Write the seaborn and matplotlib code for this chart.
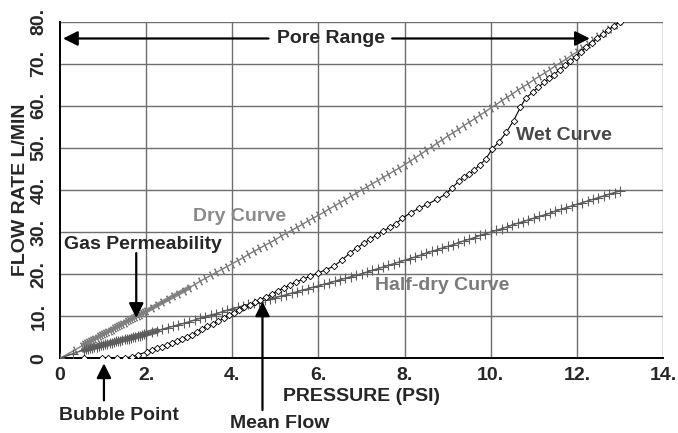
import matplotlib
matplotlib.use("Agg")
import matplotlib.pyplot as plt
import seaborn as sns
import pandas as pd

# ---------------- data ----------------
# Dry curve
dry_p_start = [0.0, 0.35, 0.50]
dry_q_start = [0.0, 2.0, 2.9]
dense_p = [0.55, 0.60, 0.65, 0.70, 0.75, 0.80, 0.85, 0.90, 0.95, 1.00,
           1.05, 1.10, 1.15, 1.20, 1.25, 1.30, 1.35, 1.40, 1.45, 1.50,
           1.55, 1.60, 1.65, 1.70, 1.75, 1.80, 1.85, 1.90, 1.95]
dry_q_dense = [3.3, 3.6, 3.8, 4.1, 4.4, 4.7, 4.9, 5.2, 5.5, 5.8,
               6.0, 6.3, 6.6, 6.8, 7.1, 7.4, 7.7, 7.9, 8.2, 8.5,
               8.8, 9.0, 9.3, 9.6, 9.9, 10.1, 10.4, 10.7, 10.9]
grid_p = [2.0, 2.125, 2.25, 2.375, 2.5, 2.625, 2.75, 2.875,
          3.0, 3.125, 3.25, 3.375, 3.5, 3.625, 3.75, 3.875,
          4.0, 4.125, 4.25, 4.375, 4.5, 4.625, 4.75, 4.875,
          5.0, 5.125, 5.25, 5.375, 5.5, 5.625, 5.75, 5.875,
          6.0, 6.125, 6.25, 6.375, 6.5, 6.625, 6.75, 6.875,
          7.0, 7.125, 7.25, 7.375, 7.5, 7.625, 7.75, 7.875,
          8.0, 8.125, 8.25, 8.375, 8.5, 8.625, 8.75, 8.875,
          9.0, 9.125, 9.25, 9.375, 9.5, 9.625, 9.75, 9.875,
          10.0, 10.125, 10.25, 10.375, 10.5, 10.625, 10.75, 10.875,
          11.0, 11.125, 11.25, 11.375, 11.5, 11.625, 11.75, 11.875,
          12.0, 12.125, 12.25, 12.375, 12.5, 12.625, 12.75, 12.875,
          13.0]
dry_q_grid = [11.2, 11.9, 12.6, 13.3, 14.0, 14.7, 15.4, 16.1,
              16.8, 17.5, 18.3, 19.0, 19.7, 20.4, 21.1, 21.8,
              22.5, 23.2, 23.9, 24.7, 25.4, 26.1, 26.8, 27.5,
              28.2, 29.0, 29.7, 30.4, 31.1, 31.8, 32.6, 33.3,
              34.0, 34.7, 35.5, 36.2, 37.0, 37.7, 38.5, 39.2,
              40.0, 40.7, 41.5, 42.2, 43.0, 43.7, 44.5, 45.2,
              46.0, 46.8, 47.7, 48.5, 49.4, 50.2, 51.1, 51.9,
              52.8, 53.6, 54.4, 55.3, 56.1, 56.9, 57.8, 58.6,
              59.5, 60.3, 61.2, 62.0, 62.8, 63.7, 64.5, 65.3,
              66.2, 67.0, 67.8, 68.6, 69.5, 70.3, 71.1, 72.0,
              72.8, 73.7, 74.6, 75.6, 76.5, 77.4, 78.3, 79.2,
              80.2]

# Half-dry curve
half_p_start = [0.0, 0.30]
half_q_start = [0.0, 1.1]
half_q_dense = [2.0, 2.1, 2.3, 2.4, 2.5, 2.7, 2.8, 2.9, 3.1, 3.2,
                3.3, 3.4, 3.6, 3.7, 3.8, 4.0, 4.1, 4.2, 4.4, 4.5,
                4.6, 4.7, 4.9, 5.0, 5.1, 5.3, 5.4, 5.5, 5.7]
half_q_grid = [5.8, 6.2, 6.5, 6.9, 7.3, 7.6, 8.0, 8.3,
               8.7, 9.1, 9.5, 9.9, 10.3, 10.6, 11.0, 11.4,
               11.8, 12.1, 12.5, 12.8, 13.1, 13.4, 13.8, 14.1,
               14.4, 14.8, 15.1, 15.5, 15.8, 16.2, 16.5, 16.9,
               17.2, 17.6, 17.9, 18.3, 18.7, 19.0, 19.4, 19.7,
               20.1, 20.5, 20.9, 21.3, 21.7, 22.1, 22.5, 22.9,
               23.3, 23.7, 24.1, 24.5, 25.0, 25.4, 25.8, 26.2,
               26.6, 27.0, 27.5, 27.9, 28.3, 28.7, 29.2, 29.6,
               30.0, 30.4, 30.8, 31.2, 31.7, 32.1, 32.5, 32.9,
               33.3, 33.7, 34.1, 34.5, 35.0, 35.4, 35.8, 36.2,
               36.6, 37.0, 37.4, 37.8, 38.2, 38.6, 39.0, 39.4,
               39.8]

# Wet curve
wet_p = [0.55, 0.97, 1.12, 1.32, 1.51, 1.66, 1.82, 2.01, 2.13, 2.25,
         2.37, 2.48, 2.60, 2.71, 2.83, 2.94, 3.06, 3.18, 3.30, 3.42,
         3.55, 3.67, 3.80, 3.92, 4.03, 4.15, 4.28, 4.40, 4.52, 4.65,
         4.78, 4.92, 5.05, 5.19, 5.33, 5.47, 5.64, 5.81, 6.00, 6.18,
         6.36, 6.55, 6.74, 6.90, 7.05, 7.20, 7.35, 7.50, 7.65, 7.80,
         7.95, 8.14, 8.33, 8.53, 8.75, 8.96, 9.10, 9.26, 9.38, 9.50,
         9.61, 9.75, 9.88, 10.03, 10.18, 10.36, 10.53, 10.69, 10.81, 10.97,
         11.10, 11.24, 11.36, 11.47, 11.60, 11.72, 11.85, 11.97, 12.10, 12.22,
         12.35, 12.47, 12.60, 12.72, 12.85, 13.00]
wet_q = [0.0, 0.0, 0.0, 0.05, 0.15, 0.35, 0.9, 1.5, 2.0, 2.4,
         2.8, 3.2, 3.6, 4.0, 4.5, 5.0, 5.6, 6.3, 7.0, 7.6,
         8.2, 8.8, 9.5, 10.2, 10.7, 11.4, 12.1, 12.7, 13.3, 13.9,
         14.6, 15.3, 16.0, 16.7, 17.4, 18.1, 18.8, 19.5, 20.3, 21.1,
         21.9, 23.4, 25.1, 26.3, 27.3, 28.3, 29.3, 30.2, 31.1, 32.0,
         33.3, 34.6, 35.6, 36.6, 37.8, 39.0, 40.5, 42.1, 43.0, 43.7,
         44.7, 46.0, 47.3, 49.7, 51.3, 53.7, 56.5, 59.7, 61.8, 63.2,
         64.4, 65.6, 66.5, 67.4, 68.6, 69.6, 70.6, 71.7, 72.9, 74.0,
         75.0, 76.0, 77.0, 77.9, 78.9, 80.0]

x_ticks = [0, 2, 4, 6, 8, 10, 12, 14]
x_tick_labels = ["0", "2.", "4.", "6.", "8.", "10.", "12.", "14."]
y_ticks = [0, 10, 20, 30, 40, 50, 60, 70, 80]
y_tick_labels = ["0", "10.", "20.", "30.", "40.", "50.", "60.", "70.", "80."]

# ---------------- tables ----------------
dry_df = pd.DataFrame({"p": dry_p_start + dense_p + grid_p,
                       "q": dry_q_start + dry_q_dense + dry_q_grid})
half_df = pd.DataFrame({"p": half_p_start + dense_p + grid_p,
                        "q": half_q_start + half_q_dense + half_q_grid})
wet_df = pd.DataFrame({"p": wet_p, "q": wet_q})
dry_band = pd.DataFrame({"p": dense_p + grid_p[:9],
                         "q": dry_q_dense + dry_q_grid[:9]})
half_band = pd.DataFrame({"p": dense_p + grid_p[:3],
                          "q": half_q_dense + half_q_grid[:3]})

# ---------------- figure ----------------
sns.set_style("white")
plt.rcParams["font.family"] = ["Liberation Sans", "DejaVu Sans"]
plt.rcParams["font.weight"] = "bold"
FS = 14

fig = plt.figure(figsize=(6.78, 4.33), dpi=100)
ax = fig.add_axes([0.0885, 0.1725, 0.8895, 0.7775])

GRID = "#6e6e6e"
for xv in x_ticks[1:]:
    ax.axvline(xv, color=GRID, lw=1.0, zorder=0)
for yv in y_ticks[1:]:
    ax.axhline(yv, color=GRID, lw=1.0, zorder=0)

# dense, merged marker bands at the start of the dry and half-dry runs
sns.lineplot(data=dry_band, x="p", y="q", sort=False, estimator=None, ax=ax,
             color="#8c8c8c", lw=3.2, zorder=2)
sns.lineplot(data=half_band, x="p", y="q", sort=False, estimator=None, ax=ax,
             color="#6a6a6a", lw=4.2, zorder=2)

sns.lineplot(data=dry_df, x="p", y="q", sort=False, estimator=None, ax=ax,
             color="#7d7d7d", lw=1.0, marker=(2, 2, 25), markersize=6,
             markeredgewidth=0.8, markeredgecolor="#7d7d7d", zorder=3)
sns.lineplot(data=half_df, x="p", y="q", sort=False, estimator=None, ax=ax,
             color="#5c5c5c", lw=1.0, marker="+", markersize=7,
             markeredgewidth=0.8, markeredgecolor="#5c5c5c", zorder=3)
sns.lineplot(data=wet_df, x="p", y="q", sort=False, estimator=None, ax=ax,
             color="black", lw=0.8, marker="D", markersize=3.3,
             markerfacecolor="white", markeredgecolor="black",
             markeredgewidth=0.6, zorder=4)

ax.set_xlim(0, 14)
ax.set_ylim(0, 80)
ax.set_xticks(x_ticks)
ax.set_xticklabels(x_tick_labels, fontsize=FS, fontweight="bold")
ax.set_yticks(y_ticks)
ax.set_yticklabels(y_tick_labels, fontsize=FS, fontweight="bold",
                   rotation=90, va="center")
ax.tick_params(axis="x", length=3, width=1, color="black", pad=3)
ax.tick_params(axis="y", length=6, width=1, color=GRID, pad=3)
for s in ["top", "right"]:
    ax.spines[s].set_visible(False)
for s in ["left", "bottom"]:
    ax.spines[s].set_color("black")
    ax.spines[s].set_linewidth(1.4)

ax.set_xlabel("PRESSURE (PSI)", fontsize=FS, fontweight="bold", labelpad=3)
ax.set_ylabel("FLOW RATE L/MIN", fontsize=FS, fontweight="bold", labelpad=1)

# curve names
ax.text(4.16, 33.7, "Dry Curve", color="#8a8a8a", fontsize=FS,
        fontweight="bold", ha="center", va="center")
ax.text(11.7, 52.9, "Wet Curve", color="#474747", fontsize=FS,
        fontweight="bold", ha="center", va="center")
ax.text(8.88, 17.3, "Half-dry Curve", color="#7a7a7a", fontsize=FS,
        fontweight="bold", ha="center", va="center")

arrow = dict(arrowstyle="-|>", color="black", lw=1.6, mutation_scale=22,
             shrinkA=0, shrinkB=0)

# Pore range
ax.text(6.3, 76, "Pore Range", fontsize=FS, fontweight="bold",
        ha="center", va="center")
ax.annotate("", xy=(0.07, 76), xytext=(4.84, 76), arrowprops=arrow)
ax.annotate("", xy=(12.3, 76), xytext=(7.71, 76), arrowprops=arrow)

# Gas permeability
ax.text(0.09, 27.0, "Gas Permeability", fontsize=FS, fontweight="bold",
        ha="left", va="center")
ax.annotate("", xy=(1.77, 9.6), xytext=(1.77, 25.0), arrowprops=arrow)

# Bubble point
ax.text(-0.02, -13.6, "Bubble Point", fontsize=FS, fontweight="bold",
        ha="left", va="center", clip_on=False)
ax.annotate("", xy=(1.02, -1.2), xytext=(1.02, -10.0), arrowprops=arrow,
            annotation_clip=False)

# Mean flow
ax.text(5.09, -15.6, "Mean Flow", fontsize=FS, fontweight="bold",
        ha="center", va="center", clip_on=False)
ax.annotate("", xy=(4.7, 13.5), xytext=(4.7, -12.3), arrowprops=arrow,
            annotation_clip=False)

fig.savefig("out.png", dpi=100)
